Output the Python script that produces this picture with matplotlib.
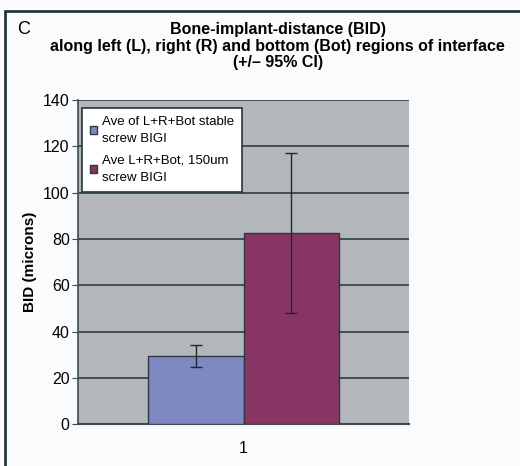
import matplotlib
matplotlib.use('Agg')
import matplotlib.pyplot as plt
from matplotlib.patches import Rectangle

plt.rcParams['font.family'] = ['Liberation Sans', 'DejaVu Sans']

# BID means and 95% CI half-widths
series = ['Ave of L+R+Bot stable\nscrew BIGI', 'Ave L+R+Bot, 150um\nscrew BIGI']
means = [29.5, 82.5]
ci = [4.8, 34.5]
colors = ['#8088c4', '#883563']
category = ['1']
title_lines = ['Bone-implant-distance (BID)',
               'along left (L), right (R) and bottom (Bot) regions of interface',
               '(+/\u2013 95% CI)']

fig = plt.figure(figsize=(5.2, 4.66), dpi=100)
fig.patch.set_facecolor('#fafbfd')

# outer panel frame
fig.add_artist(Rectangle((0.010, -0.02), 1.2, 0.997, transform=fig.transFigure,
                         fill=False, edgecolor='#24393b', lw=2.0))

ax = fig.add_axes([0.150, 0.090, 0.637, 0.695])
ax.set_facecolor('#b3b6ba')

w = 0.288
offsets = [-w / 2, w / 2]
handles = []
for m, e, c, off, lab in zip(means, ci, colors, offsets, series):
    b = ax.bar(1 + off, m, width=w, color=c, edgecolor='#2c3a3e', lw=1.0,
               label=lab, zorder=3)
    ax.errorbar(1 + off, m, yerr=e, fmt='none', ecolor='#1e2a30',
                elinewidth=1.0, capsize=4, capthick=1.0, zorder=4)
    handles.append(b)

ax.set_xlim(0.5, 1.5)
ax.set_ylim(0, 140)
ax.set_yticks(range(0, 141, 20))
ax.set_xticks([1])
ax.set_xticklabels(category)
ax.yaxis.grid(True, color='#2c3e44', lw=1.2, zorder=1)
ax.set_axisbelow(True)
for s in ['top', 'right']:
    ax.spines[s].set_visible(False)
ax.spines['left'].set_color('#3a4c52')
ax.spines['bottom'].set_color('#3a4c52')
ax.spines['left'].set_linewidth(1.2)
ax.spines['bottom'].set_linewidth(1.5)
ax.tick_params(axis='y', direction='out', length=4, color='#3a4c52',
               labelsize=11.5, pad=2)
ax.tick_params(axis='x', length=0, labelsize=11.5, pad=12)
ax.set_ylabel('BID (microns)', fontsize=11, fontweight='bold', labelpad=4)

leg = ax.legend(handles=handles, loc='upper left', fontsize=9.5,
                bbox_to_anchor=(0.005, 0.985), frameon=True, fancybox=False,
                handlelength=0.55, handleheight=0.55, handletextpad=0.35,
                labelspacing=0.75, borderpad=0.6, borderaxespad=0.2)
for t in leg.get_texts():
    t.set_linespacing(1.6)
leg.get_frame().set_edgecolor('#24393b')
leg.get_frame().set_linewidth(1.2)
leg.get_frame().set_facecolor('white')
leg.get_frame().set_alpha(1)

for line, y in zip(title_lines, [0.936, 0.901, 0.865]):
    fig.text(0.534, y, line, ha='center', va='center', fontsize=11.5,
             fontweight='bold')
fig.text(0.032, 0.936, 'C', fontsize=13, ha='left', va='center')

fig.savefig('out.png', dpi=100, facecolor=fig.get_facecolor())
